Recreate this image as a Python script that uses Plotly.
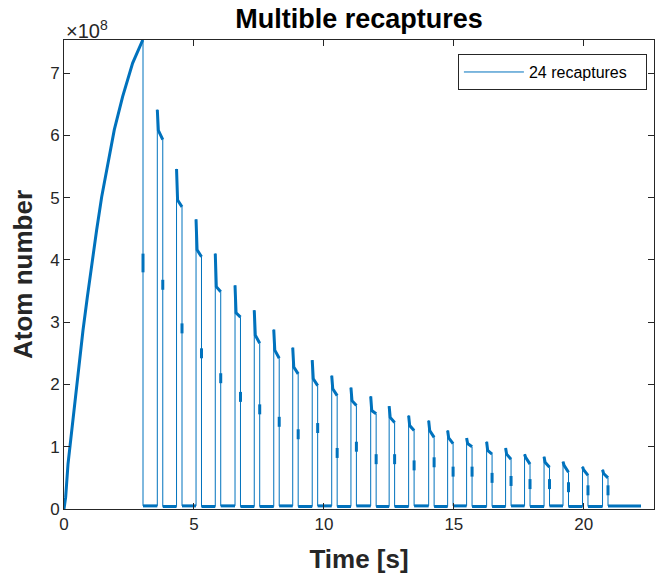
import plotly.graph_objects as go

# ---- data (atom numbers in units of 1e8, times in s) ----
t_load = [0, 0.064, 0.154, 0.295, 0.423, 0.577, 0.731, 0.897, 1.064, 1.256, 1.449,
          1.679, 1.936, 2.256, 2.641, 3.03]
n_load = [0, 0.19, 0.72, 1.26, 1.80, 2.33, 2.87, 3.40, 3.94, 4.48, 5.01,
          5.55, 6.09, 6.62, 7.16, 7.53]

t_release = 3.04          # end of loading, trap released
n_release_mid = 3.95      # sample caught during the drop
t_end = 22.2              # end of record

rise_t = [3.59, 4.33, 5.08, 5.82, 6.58, 7.32, 8.07, 8.80, 9.55, 10.30, 11.04, 11.80,
          12.51, 13.26, 14.03, 14.76, 15.49, 16.26, 16.99, 17.72, 18.47, 19.20, 19.95, 20.72]
peak_n = [6.41, 5.46, 4.65, 4.10, 3.59, 3.19, 2.88, 2.59, 2.39, 2.14, 1.95, 1.81,
          1.65, 1.50, 1.42, 1.26, 1.14, 1.08, 0.98, 0.88, 0.84, 0.76, 0.68, 0.63]
plat_start_n = [6.08, 4.96, 4.16, 3.57, 3.15, 2.79, 2.55, 2.28, 2.09, 1.93, 1.74, 1.58,
                1.47, 1.34, 1.26, 1.14, 1.05, 0.94, 0.88, 0.83, 0.75, 0.70, 0.63, 0.57]
plat_end_n = [5.93, 4.85, 4.05, 3.49, 3.08, 2.66, 2.42, 2.17, 1.98, 1.82, 1.66, 1.53,
              1.39, 1.26, 1.15, 1.05, 1.00, 0.88, 0.80, 0.72, 0.67, 0.59, 0.54, 0.50]
fall_mid_n = [3.6, 2.9, 2.5, 2.1, 1.8, 1.6, 1.4, 1.2, 1.3, 0.9, 1.0, 0.8,
              0.8, 0.7, 0.75, 0.6, 0.6, 0.5, 0.45, 0.4, 0.4, 0.35, 0.3, 0.3]
base_n = [0.05, 0.04, 0.05, 0.04, 0.05, 0.04, 0.04, 0.05, 0.04, 0.05, 0.04, 0.05,
          0.04, 0.04, 0.05, 0.04, 0.05, 0.04, 0.04, 0.05, 0.04, 0.05, 0.04, 0.04, 0.05]

pulse_len = 0.21
spike_len = 0.04
mark_half = 0.08
SCALE = 1e8
BLUE = "#0072BD"

# ---- build the trace from the read values ----
xs, ys = list(t_load), list(n_load)
ox, oy = list(t_load) + [None], list(n_load) + [None]

xs += [t_release, t_release, t_release]
ys += [n_load[-1], n_release_mid, base_n[0]]
ox += [t_release, t_release, None]
oy += [n_release_mid - 0.15, n_release_mid + 0.15, None]

gap_start = t_release
for i, tr in enumerate(rise_t):
    xs += [tr]
    ys += [base_n[i]]
    ox += [gap_start, tr, None]
    oy += [base_n[i], base_n[i], None]
    tf = tr + pulse_len
    xs += [tr, tr + spike_len, tf, tf, tf]
    ys += [peak_n[i], plat_start_n[i], plat_end_n[i], fall_mid_n[i], base_n[i + 1]]
    ox += [tr, tr + spike_len, tf, None, tf, tf, None]
    oy += [peak_n[i], plat_start_n[i], plat_end_n[i], None,
           fall_mid_n[i] - mark_half, fall_mid_n[i] + mark_half, None]
    gap_start = tf
xs += [t_end]
ys += [base_n[-1]]
ox += [gap_start, t_end]
oy += [base_n[-1], base_n[-1]]

ys = [v * SCALE for v in ys]
oy = [None if v is None else v * SCALE for v in oy]

fig = go.Figure()
fig.add_trace(go.Scatter(x=xs, y=ys, mode="lines", name="24 recaptures",
                         line=dict(color=BLUE, width=1)))
fig.add_trace(go.Scatter(x=ox, y=oy, mode="lines", showlegend=False,
                         line=dict(color=BLUE, width=3), connectgaps=False))

FONT = "Liberation Sans, Arial, sans-serif"
TXT = "#262626"
axis_common = dict(showgrid=False, zeroline=False, showline=True, mirror="ticks",
                   linecolor=TXT, linewidth=1, ticks="inside", ticklen=6,
                   tickcolor=TXT, automargin=False,
                   tickfont=dict(family=FONT, size=17, color=TXT))

fig.update_layout(
    width=655, height=579,
    margin=dict(l=64, r=1, t=40, b=70),
    plot_bgcolor="white", paper_bgcolor="white",
    title=dict(text="<b>Multible recaptures</b>", xref="paper", x=0.5, xanchor="center",
               y=0.968, yanchor="middle",
               font=dict(family=FONT, size=27, color="#000000")),
    xaxis=dict(range=[0, 22.7], tickvals=[0, 5, 10, 15, 20],
               title=dict(text="<b>Time [s]</b>", standoff=16,
                          font=dict(family=FONT, size=26, color=TXT)),
               **axis_common),
    yaxis=dict(range=[0, 7.53 * SCALE], tickvals=[k * SCALE for k in range(8)],
               ticktext=[str(k) for k in range(8)],
               title=dict(text="<b>Atom number</b>", standoff=10,
                          font=dict(family=FONT, size=26, color=TXT)),
               **axis_common),
    legend=dict(x=0.988, xanchor="right", y=0.97, yanchor="top",
                orientation="h", itemwidth=60,
                bgcolor="white", bordercolor=TXT, borderwidth=1,
                entrywidth=112, entrywidthmode="pixels",
                font=dict(family=FONT, size=16, color="#000000")),
    showlegend=True,
)
fig.add_annotation(xref="paper", yref="paper", x=0, y=1, xanchor="left",
                   yanchor="bottom", showarrow=False, yshift=-4, xshift=0,
                   text="\u00d710<sup>8</sup>",
                   font=dict(family=FONT, size=20, color=TXT))

fig.write_html("out.html", config={"displayModeBar": False},
               post_script="document.body.style.margin='0';")
